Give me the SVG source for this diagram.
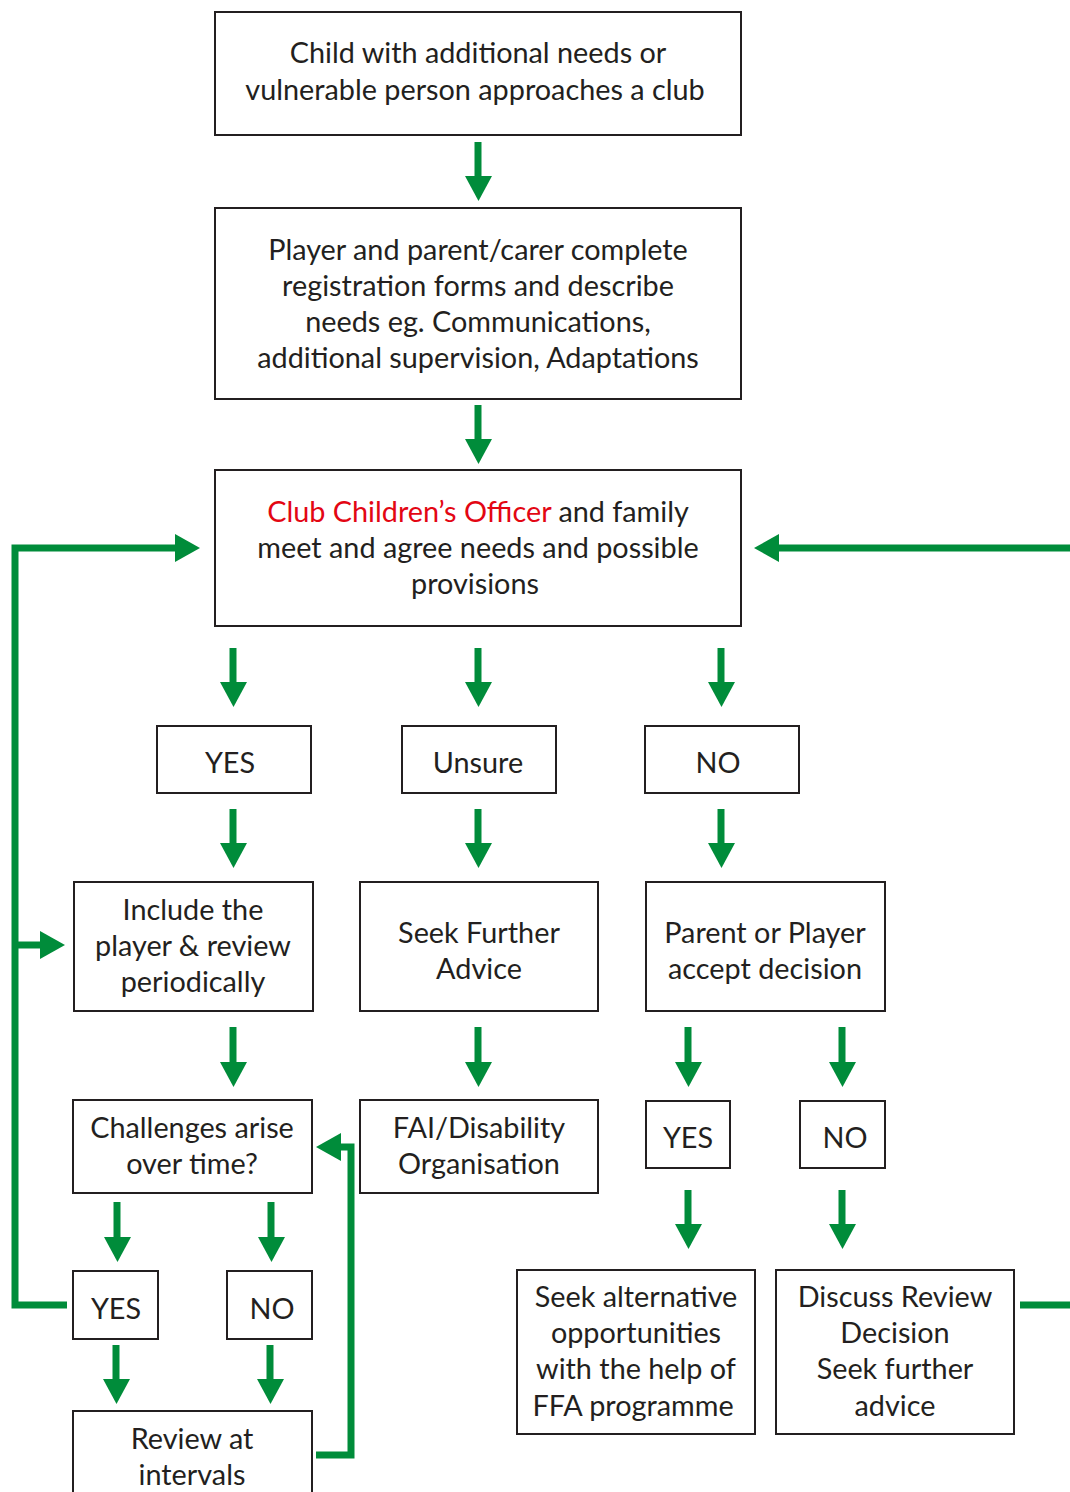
<svg xmlns="http://www.w3.org/2000/svg" width="1070" height="1492" viewBox="0 0 1070 1492">
<defs>
<style>
.box{fill:#fff;stroke:#231f20;stroke-width:2}
text{font-family:Lato,"Open Sans","Liberation Sans",sans-serif;font-size:28.8px;fill:#231f20;text-anchor:middle}
.red{fill:#e30613}
.ln{fill:none;stroke:#008c3a;stroke-width:7}
.hd{fill:#008c3a}
</style>
</defs>
<rect width="1070" height="1492" fill="#fff"/>
<g id="connectors">
<g id="v-arrows">
<path class="ln" d="M478 142V177"/><path class="hd" d="M465 176h27l-13.5 25z"/>
<path class="ln" d="M478 405V440"/><path class="hd" d="M465 439h27l-13.5 25z"/>
<path class="ln" d="M233 648V683"/><path class="hd" d="M220 682h27l-13.5 25z"/>
<path class="ln" d="M478 648V683"/><path class="hd" d="M465 682h27l-13.5 25z"/>
<path class="ln" d="M721 648V683"/><path class="hd" d="M708 682h27l-13.5 25z"/>
<path class="ln" d="M233 809V844"/><path class="hd" d="M220 843h27l-13.5 25z"/>
<path class="ln" d="M478 809V844"/><path class="hd" d="M465 843h27l-13.5 25z"/>
<path class="ln" d="M721 809V844"/><path class="hd" d="M708 843h27l-13.5 25z"/>
<path class="ln" d="M233 1027V1063"/><path class="hd" d="M220 1062h27l-13.5 25z"/>
<path class="ln" d="M478 1027V1063"/><path class="hd" d="M465 1062h27l-13.5 25z"/>
<path class="ln" d="M688 1027V1063"/><path class="hd" d="M675 1062h27l-13.5 25z"/>
<path class="ln" d="M842 1027V1063"/><path class="hd" d="M829 1062h27l-13.5 25z"/>
<path class="ln" d="M117 1202V1238"/><path class="hd" d="M104 1237h27l-13.5 25z"/>
<path class="ln" d="M271 1202V1238"/><path class="hd" d="M258 1237h27l-13.5 25z"/>
<path class="ln" d="M688 1190V1225"/><path class="hd" d="M675 1224h27l-13.5 25z"/>
<path class="ln" d="M842 1190V1225"/><path class="hd" d="M829 1224h27l-13.5 25z"/>
<path class="ln" d="M116 1345V1380"/><path class="hd" d="M103 1379h27l-13.5 25z"/>
<path class="ln" d="M270 1345V1380"/><path class="hd" d="M257 1379h27l-13.5 25z"/>
</g>
<path class="ln" d="M67 1305H15V548H176"/><path class="hd" d="M175 534v28l25-14z"/>
<path class="ln" d="M15 945H41"/><path class="hd" d="M40 931v28l25-14z"/>
<path class="ln" d="M1070 548H778"/><path class="hd" d="M779 534v28l-25-14z"/>
<path class="ln" d="M1020 1305H1070"/>
<path class="ln" d="M316 1455H351V1147H340"/><path class="hd" d="M341 1133v28l-25-14z"/>
</g>
<g id="n1"><rect class="box" x="215" y="12" width="526" height="123"/><text x="478" y="63">Child with additional needs or</text><text x="475" y="100">vulnerable person approaches a club</text></g>
<g id="n2"><rect class="box" x="215" y="208" width="526" height="191"/><text x="478" y="260">Player and parent/carer complete</text><text x="478" y="296">registration forms and describe</text><text x="478" y="332">needs eg. Communications,</text><text x="478" y="368">additional supervision, Adaptations</text></g>
<g id="n3"><rect class="box" x="215" y="470" width="526" height="156"/><text x="478" y="522"><tspan class="red">Club Children’s Officer</tspan> and family</text><text x="478" y="558">meet and agree needs and possible</text><text x="475" y="594">provisions</text></g>
<g id="n4"><rect class="box" x="157" y="726" width="154" height="67"/><text x="230" y="773">YES</text></g>
<g id="n5"><rect class="box" x="402" y="726" width="154" height="67"/><text x="478" y="773">Unsure</text></g>
<g id="n6"><rect class="box" x="645" y="726" width="154" height="67"/><text x="718" y="773">NO</text></g>
<g id="n7"><rect class="box" x="74" y="882" width="239" height="129"/><text x="193" y="920">Include the</text><text x="193" y="956">player &amp; review</text><text x="193" y="992">periodically</text></g>
<g id="n8"><rect class="box" x="360" y="882" width="238" height="129"/><text x="479" y="943">Seek Further</text><text x="479" y="979">Advice</text></g>
<g id="n9"><rect class="box" x="646" y="882" width="239" height="129"/><text x="765" y="943">Parent or Player</text><text x="765" y="979">accept decision</text></g>
<g id="n10"><rect class="box" x="73" y="1100" width="239" height="93"/><text x="192" y="1138">Challenges arise</text><text x="192" y="1174">over time?</text></g>
<g id="n11"><rect class="box" x="360" y="1100" width="238" height="93"/><text x="479" y="1138">FAI/Disability</text><text x="479" y="1174">Organisation</text></g>
<g id="n12"><rect class="box" x="646" y="1101" width="84" height="67"/><text x="688" y="1148">YES</text></g>
<g id="n13"><rect class="box" x="800" y="1101" width="85" height="67"/><text x="845" y="1148">NO</text></g>
<g id="n14"><rect class="box" x="73" y="1271" width="85" height="68"/><text x="116" y="1319">YES</text></g>
<g id="n15"><rect class="box" x="227" y="1271" width="85" height="68"/><text x="272" y="1319">NO</text></g>
<g id="n16"><rect class="box" x="73" y="1411" width="239" height="95"/><text x="192" y="1449">Review at</text><text x="192" y="1485">intervals</text></g>
<g id="n17"><rect class="box" x="517" y="1270" width="238" height="164"/><text x="636" y="1307">Seek alternative</text><text x="636" y="1343">opportunities</text><text x="636" y="1379">with the help of</text><text x="633" y="1416">FFA programme</text></g>
<g id="n18"><rect class="box" x="776" y="1270" width="238" height="164"/><text x="895" y="1307">Discuss Review</text><text x="895" y="1343">Decision</text><text x="895" y="1379">Seek further</text><text x="895" y="1416">advice</text></g>
</svg>
